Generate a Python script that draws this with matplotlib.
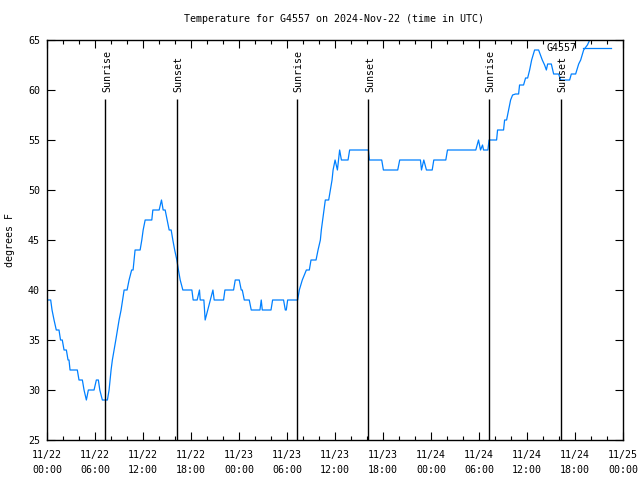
import matplotlib
matplotlib.use("Agg")
import matplotlib.pyplot as plt
from matplotlib.ticker import MultipleLocator

# hours since 2024-11-22 00:00 UTC
hours = [0.13, 0.46, 0.63, 0.88, 1.16, 1.50, 1.69, 1.91, 2.13, 2.42, 2.63, 2.75, 2.88, 3.79,
         4.00, 4.42, 4.63, 4.92, 5.17, 5.88, 6.17, 6.42, 6.60, 6.92, 7.55, 7.76, 7.88, 8.01,
         8.17, 8.39, 8.60, 8.80, 9.01, 9.26, 9.45, 9.64, 10.01, 10.26, 10.58, 10.76, 10.89,
         11.01, 11.64, 11.85, 12.02, 12.27, 13.10, 13.23, 14.02, 14.31, 14.52, 14.77, 15.02,
         15.27, 15.52, 15.73, 15.96, 16.23, 16.43, 16.65, 16.98, 18.11, 18.27, 18.77, 19.06,
         19.15, 19.61, 19.77, 20.09, 20.40, 20.74, 20.90, 22.07, 22.24, 23.32, 23.53, 24.03,
         24.28, 24.41, 24.66, 25.28, 25.53, 26.62, 26.78, 26.91, 28.00, 28.20, 29.57, 29.79,
         29.91, 30.08, 31.33, 31.54, 31.91, 32.42, 32.79, 33.00, 33.63, 33.88, 34.17, 34.29,
         34.46, 34.63, 34.79, 35.21, 35.42, 35.63, 35.76, 36.01, 36.30, 36.58, 36.80, 37.63,
         37.83, 40.18, 40.30, 41.84, 42.05, 43.84, 44.09, 46.68, 46.81, 47.10, 47.43, 48.15,
         48.35, 49.85, 50.06, 53.60, 53.94, 54.19, 54.44, 54.57, 55.11, 55.26, 56.20, 56.32,
         57.07, 57.20, 57.45, 57.70, 57.95, 58.20, 58.57, 58.95, 59.07, 59.57, 59.82, 60.08,
         60.33, 60.58, 60.95, 61.45, 61.91, 62.20, 62.42, 62.58, 63.04, 63.33, 63.95, 64.21,
         65.33, 65.54, 66.08, 66.30, 66.46, 66.71, 67.08, 67.55, 67.96, 68.58, 69.21]
temps = [39, 39, 38, 37, 36, 36, 35, 35, 34, 34, 33, 33, 32, 32,
         31, 31, 30, 29, 30, 30, 31, 31, 30, 29, 29, 30, 31, 32,
         33, 34, 35, 36, 37, 38, 39, 40, 40, 41, 42, 42, 43,
         44, 44, 45, 46, 47, 47, 48, 48, 49, 48, 48, 47,
         46, 46, 45, 44, 43, 42, 41, 40, 40, 39, 39, 40,
         39, 39, 37, 38, 39, 40, 39, 39, 40, 40, 41, 41,
         40, 40, 39, 39, 38, 38, 39, 38, 38, 39, 39, 38,
         38, 39, 39, 40, 41, 42, 42, 43, 43, 44, 45, 46,
         47, 48, 49, 49, 50, 51, 52, 53, 52, 54, 53, 53,
         54, 54, 53, 53, 52, 52, 53, 53, 52, 53, 52, 52,
         53, 53, 54, 54, 55, 54, 54.5, 54, 54, 55, 55, 56,
         56, 57, 57, 58, 59, 59.5, 59.6, 59.6, 60.5, 60.5, 61.2, 61.2,
         62, 63, 64, 64, 63, 62.5, 62, 62.6, 62.6, 61.6, 61.6, 61,
         61, 61.6, 61.6, 62.2, 62.6, 63, 64, 64.5, 65.2, 66, 66]

sun_hours = [7.30, 16.23, 31.25, 40.18, 55.24, 64.24]
sun_labels = ["Sunrise", "Sunset", "Sunrise", "Sunset", "Sunrise", "Sunset"]

xtick_labels = ["11/22\n00:00", "11/22\n06:00", "11/22\n12:00", "11/22\n18:00",
                "11/23\n00:00", "11/23\n06:00", "11/23\n12:00", "11/23\n18:00",
                "11/24\n00:00", "11/24\n06:00", "11/24\n12:00", "11/24\n18:00",
                "11/25\n00:00"]
ytick_values = [25, 30, 35, 40, 45, 50, 55, 60, 65]

station = "G4557"
title = "Temperature for G4557 on 2024-Nov-22 (time in UTC)"

plt.rcParams['font.family'] = ['DejaVu Sans Mono']
fs = 7.2

fig = plt.figure(figsize=(6.4, 4.8), dpi=100)
ax = fig.add_axes([47/640, 1-440/480, 576/640, 400/480])

ax.plot(hours, temps, color='#0080ff', lw=0.9, label=station)
ax.vlines(sun_hours, 25, 59.1, color='black', lw=1.0)
for h, lab in zip(sun_hours, sun_labels):
    ax.text(h + 0.2, 59.8, lab, rotation=90, ha='center', va='bottom', fontsize=fs)

ax.set_xlim(0, 72)
ax.set_ylim(25, 65)
ax.set_xticks([6 * i for i in range(len(xtick_labels))])
ax.set_xticklabels(xtick_labels, fontsize=fs, linespacing=1.6)
ax.xaxis.set_minor_locator(MultipleLocator(2))
ax.set_yticks(ytick_values)
ax.set_yticklabels([str(v) for v in ytick_values], fontsize=fs)
ax.tick_params(which='major', direction='in', length=6, width=0.8, top=True, right=True, pad=5)
ax.tick_params(axis='x', which='major', pad=7)
ax.tick_params(which='minor', direction='in', length=3, width=0.8, top=True, right=False)
for s in ax.spines.values():
    s.set_linewidth(1.0)

ax.set_ylabel("degrees F", fontsize=fs)
ax.yaxis.set_label_coords(-0.055, 0.5)
fig.text(334/640, 1 - 19/480, title, ha='center', va='center', fontsize=fs)

leg = ax.legend(loc='upper right', bbox_to_anchor=(0.979, 0.992), frameon=False,
                markerfirst=False, fontsize=fs, handlelength=2.8, handletextpad=0.6,
                borderpad=0, borderaxespad=0)

fig.savefig("out.png", dpi=100)
